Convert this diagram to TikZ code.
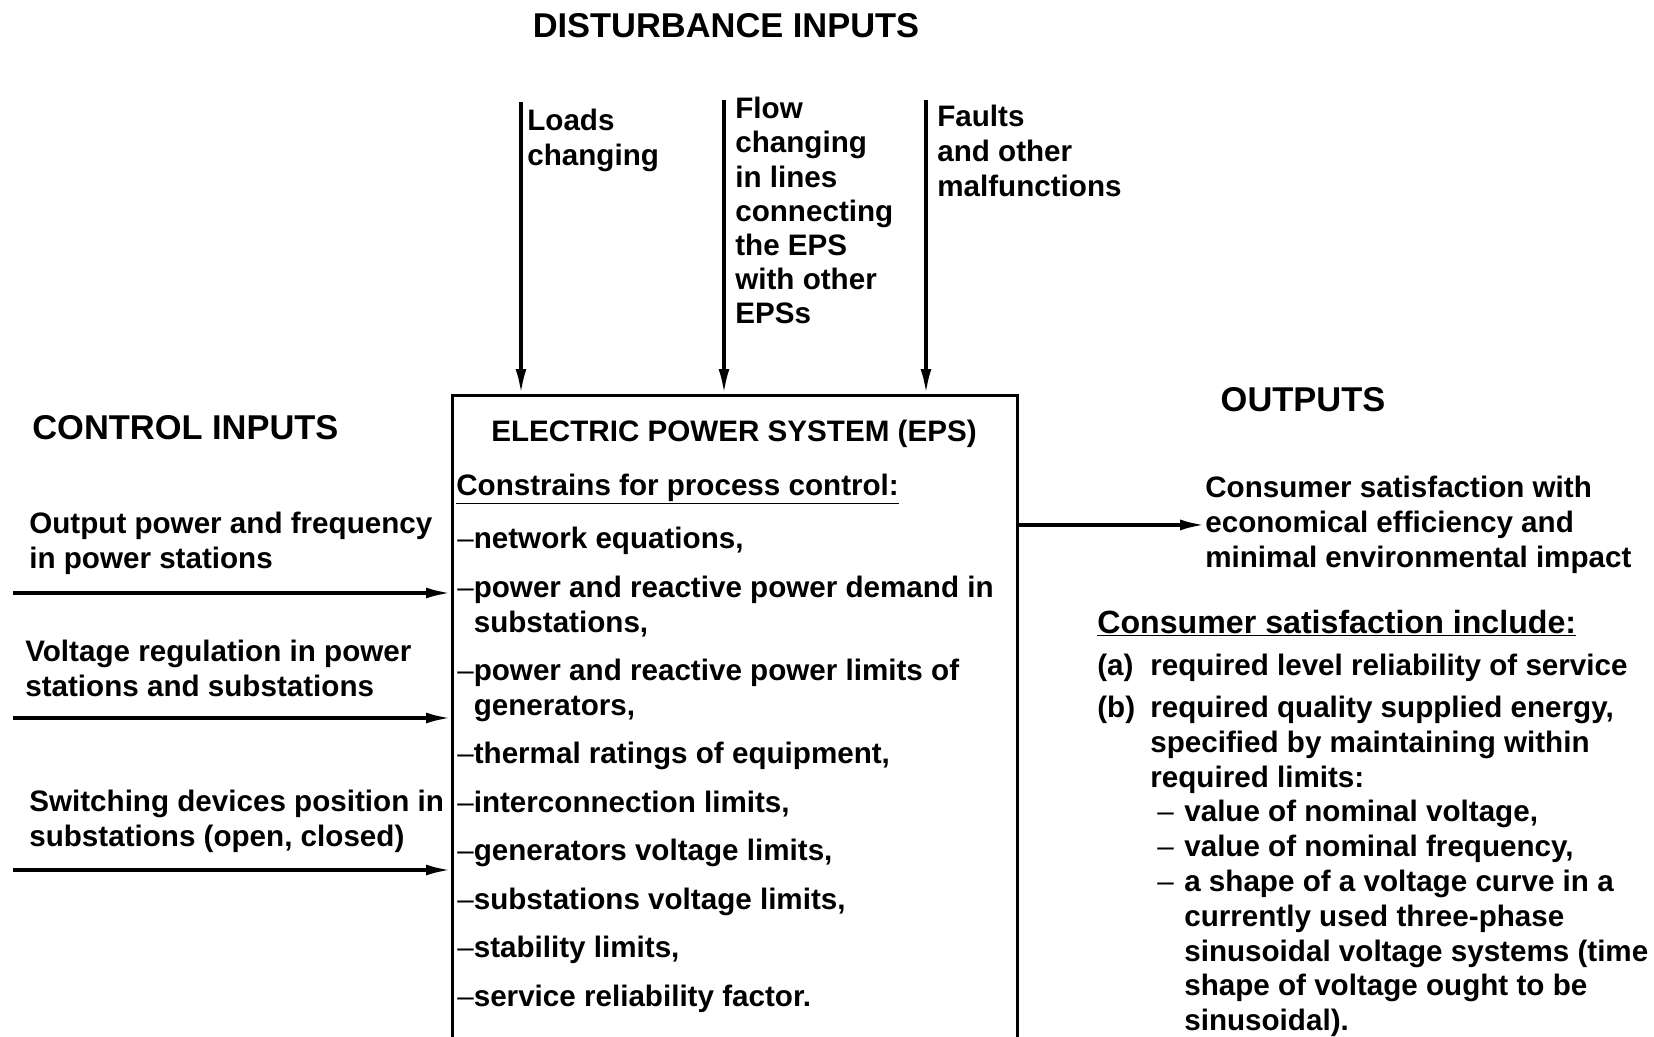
\documentclass[tikz,border=0pt]{standalone}
\usepackage{fontspec}
\setmainfont{Liberation Sans}
\usetikzlibrary{arrows.meta,positioning}

\tikzset{
  txt/.style={inner sep=0pt, align=left, anchor=north west},
  head/.style={inner sep=0pt, font=\bfseries\fontsize{19.6}{23}\selectfont},
  arr/.style={line width=2pt, -{Latex[length=0.5cm,width=0.22cm]}},
}
\newcommand{\dsh}{{\mdseries\textendash}}

\begin{document}
\begin{tikzpicture}[x=0.02cm, y=-0.02cm, font=\bfseries\fontsize{16.85}{19.8}\selectfont]
  \useasboundingbox (0,0) rectangle (1654,1037);
  \clip (0,0) rectangle (1654,1037);

  % the system block (runs off the bottom)
  \node[draw, line width=1.6pt, anchor=north west, inner sep=0pt,
        minimum width=11.3cm, minimum height=13.3cm] (eps) at (451,394) {};
  \node[anchor=base, inner sep=0pt] (epstitle) at (734,441) {ELECTRIC POWER SYSTEM (EPS)};
  \node[anchor=base west, inner sep=0pt] (constr) at (456,495) {\underline{Constrains for process control:}};
  \node[txt] (constrlist) at (457,527) {%
    \dsh network equations,\\[7.8pt]
    \dsh power and reactive power demand in\\
    \hphantom{\dsh}substations,\\[7.8pt]
    \dsh power and reactive power limits of\\
    \hphantom{\dsh}generators,\\[7.8pt]
    \dsh thermal ratings of equipment,\\[7.8pt]
    \dsh interconnection limits,\\[7.8pt]
    \dsh generators voltage limits,\\[7.8pt]
    \dsh substations voltage limits,\\[7.8pt]
    \dsh stability limits,\\[7.8pt]
    \dsh service reliability factor.};

  % disturbance inputs
  \node[head, anchor=base] (dist) at (726,38) {DISTURBANCE INPUTS};
  \node[txt] (loads) at (527,109) {Loads\\changing};
  \node[txt, font=\bfseries\fontsize{16.85}{19.45}\selectfont] (flow) at (735,97)
    {Flow\\changing\\in lines\\connecting\\the EPS\\with other\\EPSs};
  \node[txt] (faults) at (937,105) {Faults\\and other\\malfunctions};
  \coordinate (d1) at (521,102);
  \coordinate (d2) at (724,100);
  \coordinate (d3) at (926,100);
  \foreach \n in {1,2,3}
    \draw[arr] (d\n) -- (d\n |- eps.north);

  % control inputs
  \node[head, anchor=base west] (ctrl) at (32,439) {CONTROL INPUTS};
  \node[txt] (cin1) at (29,512) {Output power and frequency\\in power stations};
  \node[txt] (cin2) at (25,640) {Voltage regulation in power\\stations and substations};
  \node[txt] (cin3) at (29,790) {Switching devices position in\\substations (open, closed)};
  \foreach \y [count=\n] in {593,718,870} {
    \coordinate (c\n) at (13,\y);
    \draw[arr] (c\n) -- (c\n -| eps.west);
  }

  % outputs
  \node[head, anchor=base] (outs) at (1303,411) {OUTPUTS};
  \node[txt] (cons) at (1205,476) {Consumer satisfaction with\\economical efficiency and\\minimal environmental impact};
  \draw[arr] (eps.east |- cons.west) -- (cons.west);
  \node[anchor=base west, inner sep=0pt, font=\bfseries\fontsize{18.3}{22}\selectfont] (incl)
    at (1097,633) {\underline{Consumer satisfaction include:}};
  \node[txt] (reqs) at (1097,654) {%
    \makebox[30.2pt][l]{(a)}required level reliability of service\\[4pt]
    \makebox[30.2pt][l]{(b)}required quality supplied energy,\\
    \hspace*{30.2pt}specified by maintaining within\\
    \hspace*{30.2pt}required limits:\\
    \hspace*{34.1pt}\makebox[15.4pt][l]{\dsh}value of nominal voltage,\\
    \hspace*{34.1pt}\makebox[15.4pt][l]{\dsh}value of nominal frequency,\\
    \hspace*{34.1pt}\makebox[15.4pt][l]{\dsh}a shape of a voltage curve in a\\
    \hspace*{49.5pt}currently used three-phase\\
    \hspace*{49.5pt}sinusoidal voltage systems (time\\
    \hspace*{49.5pt}shape of voltage ought to be\\
    \hspace*{49.5pt}sinusoidal).};
\end{tikzpicture}
\end{document}
